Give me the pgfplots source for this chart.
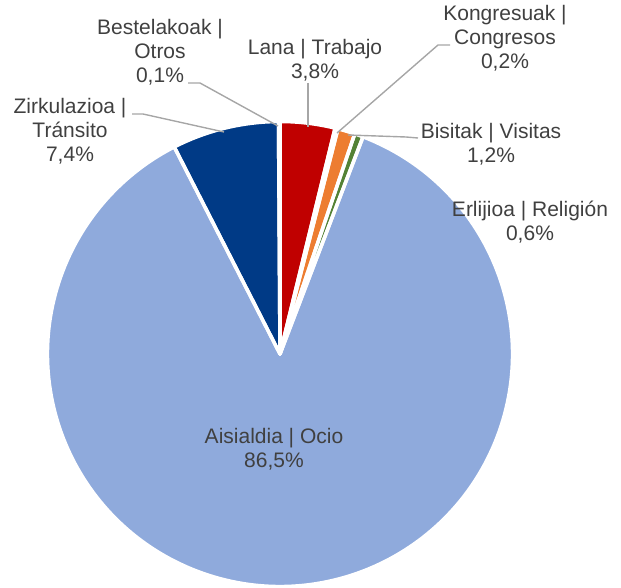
\documentclass[border=0pt]{standalone}
\usepackage{pgfplots}
\usepackage{pgfplotstable}
\pgfplotsset{compat=1.18}
\usepackage{fontspec}
\setmainfont{Liberation Sans}
\definecolor{cLana}{HTML}{C00000}
\definecolor{cKong}{HTML}{A5A5A5}
\definecolor{cBis}{HTML}{ED7D31}
\definecolor{cErl}{HTML}{548235}
\definecolor{cAis}{HTML}{8FAADC}
\definecolor{cZir}{HTML}{003A86}
\definecolor{cBes}{HTML}{7F7F7F}
\definecolor{txt}{HTML}{404040}
\definecolor{lead}{HTML}{A6A6A6}
\tikzset{lbl/.style={font=\fontsize{21}{24}\selectfont, text=txt, align=center, inner sep=0pt}}
\pgfplotstableread{
value color
3.8 cLana
0.2 cKong
1.2 cBis
0.6 cErl
86.5 cAis
7.4 cZir
0.1 cBes
}\piedata
\begin{document}
\begin{tikzpicture}
\begin{axis}[
  at={(0,0)}, anchor=south west,
  x=1pt, y=1pt, xmin=0, xmax=621, ymin=0, ymax=587,
  hide axis, clip=false,
]
\pgfplotsextra{
  \pgfplotstablegetrowsof{\piedata}
  \pgfmathtruncatemacro\N{\pgfplotsretval-1}
  % fills
  \gdef\startang{90}
  \foreach \i in {0,...,\N}{
    \pgfplotstablegetelem{\i}{value}\of\piedata \let\v\pgfplotsretval
    \pgfplotstablegetelem{\i}{color}\of\piedata \let\c\pgfplotsretval
    \pgfmathsetmacro\endang{\startang - \v/99.8*360}
    \fill[\c] (axis cs:280,233) -- ++(\startang:232.5pt) arc[start angle=\startang, end angle=\endang, radius=232.5pt] -- cycle;
    \global\let\startang\endang
  }
  % white borders
  \gdef\startang{90}
  \foreach \i in {0,...,\N}{
    \pgfplotstablegetelem{\i}{value}\of\piedata \let\v\pgfplotsretval
    \pgfmathsetmacro\endang{\startang - \v/99.8*360}
    \draw[white, line width=3.5pt, line join=round] (axis cs:280,233) -- ++(\startang:232.5pt) arc[start angle=\startang, end angle=\endang, radius=232.5pt] -- cycle;
    \global\let\startang\endang
  }
  % leader lines
  \begin{scope}[lead, line width=1.4pt]
  \draw (axis cs:188,504) -- (axis cs:200,504) -- (axis cs:278,461);
  \draw (axis cs:132,473) -- (axis cs:143,473) -- (axis cs:224,455);
  \draw (axis cs:308,504) -- (axis cs:308,460);
  \draw (axis cs:450,542) -- (axis cs:438,542) -- (axis cs:337,454);
  \draw (axis cs:418,449) -- (axis cs:406,450) -- (axis cs:348,452);
  \end{scope}
}
\node[lbl] at (axis cs:160,535) {Bestelakoak |\\Otros\\0,1\%};
\node[lbl] at (axis cs:315,527) {Lana | Trabajo\\3,8\%};
\node[lbl] at (axis cs:70,456) {Zirkulazioa |\\Tránsito\\7,4\%};
\node[lbl] at (axis cs:505,549) {Kongresuak |\\Congresos\\0,2\%};
\node[lbl] at (axis cs:491,443) {Bisitak | Visitas\\1,2\%};
\node[lbl] at (axis cs:530,365) {Erlijioa | Religión\\0,6\%};
\node[lbl] at (axis cs:274,138) {Aisialdia | Ocio\\86,5\%};
\end{axis}
\pgfresetboundingbox
\path (0,0) rectangle (621pt,587pt);
\end{tikzpicture}
\end{document}
